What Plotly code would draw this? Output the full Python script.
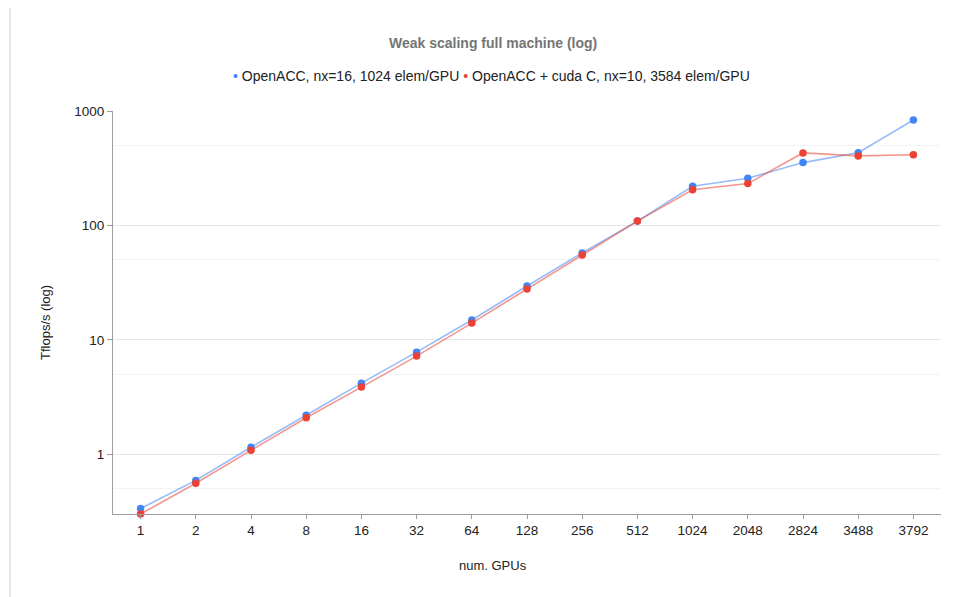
import plotly.graph_objects as go
import math

gpus = ["1", "2", "4", "8", "16", "32", "64", "128", "256", "512", "1024", "2048", "2824", "3488", "3792"]
openacc = [0.335, 0.59, 1.15, 2.19, 4.18, 7.8, 14.9, 29.5, 57.4, 109, 220, 258, 354, 432, 835]
openacc_cuda = [0.30, 0.557, 1.08, 2.08, 3.86, 7.2, 14.0, 27.8, 55, 109, 205, 232, 430, 405, 415]
y_ticks = [1, 10, 100, 1000]
y_minor = [0.5, 5, 50, 500]

name1 = "OpenACC, nx=16, 1024 elem/GPU"
name2 = "OpenACC + cuda C, nx=10, 3584 elem/GPU"
blue = "#4285F4"
red = "#EA4335"

W, H = 958, 597
L, R, T, B = 113, 17, 111, 83
pw, ph = W - L - R, H - T - B

def px(x):
    return (x - L) / pw

def py(y):
    return (H - B - y) / ph

fig = go.Figure()
for vals, col, nm in [(openacc, blue, name1), (openacc_cuda, red, name2)]:
    fig.add_trace(go.Scatter(x=gpus, y=vals, mode="lines", line=dict(color=col, width=1.6),
                             opacity=0.55, showlegend=False, hoverinfo="skip", cliponaxis=False))
for vals, col, nm in [(openacc, blue, name1), (openacc_cuda, red, name2)]:
    fig.add_trace(go.Scatter(x=gpus, y=vals, mode="markers", name=nm, showlegend=False,
                             marker=dict(color=col, size=7.5), cliponaxis=False))

font = "Liberation Sans, Arial, sans-serif"
legend_text = (f'<span style="color:{blue}">•</span> {name1} '
               f'<span style="color:{red}">•</span> {name2}')

fig.update_layout(
    width=W, height=H,
    margin=dict(l=L, r=R, t=T, b=B),
    paper_bgcolor="white", plot_bgcolor="white",
    font=dict(family=font, size=13.5, color="#222222"),
    showlegend=False,
    xaxis=dict(type="category", range=[-0.5, 14.5], showgrid=False, showline=True,
               linecolor="#9e9e9e", linewidth=1, ticks="outside", ticklen=4, tickcolor="#9e9e9e",
               tickfont=dict(size=13.5, color="#222222"), zeroline=False, fixedrange=True),
    yaxis=dict(type="log", range=[math.log10(0.3), 3], tickvals=y_ticks,
               ticktext=[str(v) for v in y_ticks], showgrid=True, gridcolor="#e6e6e6",
               showline=True, linecolor="#9e9e9e", linewidth=1, ticks="outside", ticklen=5,
               tickcolor="#9e9e9e", tickfont=dict(size=13.5, color="#222222"), zeroline=False,
               minor=dict(tickvals=y_minor, showgrid=True, gridcolor="#f3f3f3", ticks=""),
               fixedrange=True),
    annotations=[
        dict(text="<b>Weak scaling full machine (log)</b>", x=px(493), y=py(43), xref="paper", yref="paper",
             showarrow=False, font=dict(size=14, color="#757575", family=font), xanchor="center", yanchor="middle"),
        dict(text=legend_text, x=px(491), y=py(76), xref="paper", yref="paper",
             showarrow=False, font=dict(size=14, color="#222222", family=font), xanchor="center", yanchor="middle"),
        dict(text="Tflops/s (log)", x=px(45), y=py(323), xref="paper", yref="paper", textangle=-90,
             showarrow=False, font=dict(size=13, color="#222222", family=font), xanchor="center", yanchor="middle"),
        dict(text="num. GPUs", x=px(493), y=py(565), xref="paper", yref="paper",
             showarrow=False, font=dict(size=13, color="#222222", family=font), xanchor="center", yanchor="middle"),
    ],
    shapes=[dict(type="line", xref="paper", yref="paper", x0=px(10), x1=px(10), y0=py(8), y1=py(597),
                 line=dict(color="#dddddd", width=1.5))],
)

fig.write_html("out.html")
